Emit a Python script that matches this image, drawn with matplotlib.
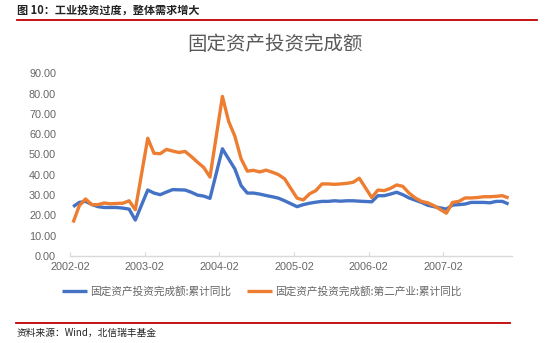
import numpy as np
import pandas as pd
import matplotlib
matplotlib.use("Agg")
import matplotlib.pyplot as plt
from matplotlib.lines import Line2D

plt.rcParams['font.family'] = ['Noto Sans CJK SC', 'DejaVu Sans']

# 月度数据：2002-02 至 2007-12，1月份无单独数据（None）
months = pd.period_range('2002-02', '2007-12', freq='M')

fai_total = [
    24.3, 26.4, 26.9, 25.4, 24.3, 23.9, 23.9, 23.9, 23.6, 23.1, 17.7,
    None, 32.5, 31.0, 30.2, 31.5, 32.7, 32.6, 32.5, 31.4, 30.0, 29.5, 28.4,
    None, 52.8, 47.8, 42.9, 34.7, 31.0, 31.0, 30.5, 29.8, 29.2, 28.5, 27.2,
    None, 24.3, 25.3, 26.0, 26.5, 26.9, 26.9, 27.2, 27.0, 27.2, 27.2, 27.0,
    None, 26.7, 29.7, 29.7, 30.5, 31.4, 30.2, 28.6, 27.5, 26.4, 25.0, 24.3,
    None, 23.1, 25.1, 25.3, 25.6, 26.4, 26.4, 26.4, 26.2, 26.9, 26.9, 25.6,
]

fai_secondary = [
    16.5, 24.8, 28.1, 25.3, 25.3, 26.1, 25.7, 25.9, 26.0, 27.2, 22.8,
    None, 58.0, 50.6, 50.4, 52.5, 51.7, 51.0, 51.5, 49.0, 46.2, 43.6, 38.9,
    None, 78.6, 66.3, 59.0, 47.9, 41.8, 42.2, 41.4, 42.3, 41.3, 40.1, 38.0,
    None, 28.5, 27.6, 30.6, 32.2, 35.5, 35.5, 35.3, 35.5, 35.8, 36.3, 38.3,
    None, 28.8, 32.5, 32.2, 33.3, 35.0, 34.3, 31.0, 28.6, 26.9, 26.2, 24.8,
    None, 21.1, 26.4, 26.9, 28.6, 28.6, 28.8, 29.2, 29.2, 29.4, 29.7, 28.6,
]

series_names = ['固定资产投资完成额:累计同比', '固定资产投资完成额:第二产业:累计同比']
colors = ['#4472C4', '#ED7D31']
yticks = np.arange(0, 91, 10)

W, H = 550, 343
fig = plt.figure(figsize=(W / 100, H / 100), dpi=100)

def fx(px):
    return px / W

def fy(py):
    return 1 - py / H

# 页眉与页脚
fig.text(fx(17), fy(10), '图 10：工业投资过度，整体需求增大', fontsize=8, fontweight='bold',
         color='#222222', va='center', ha='left')
fig.add_artist(Line2D([fx(17), fx(537)], [fy(19.5), fy(19.5)], color='#C00000', lw=1.3))
fig.add_artist(Line2D([fx(16), fx(510)], [fy(323), fy(323)], color='#C00000', lw=1.3))
fig.text(fx(17), fy(333), '资料来源：Wind，北信瑞丰基金', fontsize=7, style='italic',
         color='#222222', va='center', ha='left')

# 图表标题
fig.text(fx(275), fy(45), '固定资产投资完成额', fontsize=14, color='#595959',
         ha='center', va='center')

ax = fig.add_axes([fx(70), fy(256), fx(511.7) - fx(70), fy(73.3) - fy(256)])

x = np.arange(len(months))
for vals, c, name in zip([fai_total, fai_secondary], colors, series_names):
    v = np.array([np.nan if a is None else a for a in vals], dtype=float)
    ok = ~np.isnan(v)
    ax.plot(x[ok], v[ok], color=c, lw=2.4, label=name, solid_joinstyle='round',
            solid_capstyle='butt')

ax.set_xlim(-0.5, len(months) - 0.5)
ax.set_ylim(0, 90)
ax.set_yticks(yticks)
ax.set_yticklabels([f'{t:.2f}' for t in yticks], family=['Liberation Sans', 'DejaVu Sans'],
                   fontsize=7.8, color='#666666')

tick_idx = np.arange(0, len(months), 12)
ax.set_xticks(tick_idx - 0.5)
ax.set_xticklabels([str(months[i]) for i in tick_idx], family=['Liberation Sans', 'DejaVu Sans'],
                   fontsize=7.8, color='#666666')

for s in ['top', 'right', 'left']:
    ax.spines[s].set_visible(False)
ax.spines['bottom'].set_color('#D9D9D9')
ax.spines['bottom'].set_linewidth(1.0)
ax.tick_params(axis='y', length=0, pad=10)
ax.tick_params(axis='x', direction='in', length=3, color='#D9D9D9', pad=4)

ax.legend(loc='center', bbox_to_anchor=(fx(262), fy(291.7)), bbox_transform=fig.transFigure,
          ncol=2, frameon=False, fontsize=7.7, labelcolor='#666666', handlelength=2.3,
          handletextpad=0.3, columnspacing=1.5)

fig.savefig('out.png', dpi=100)
